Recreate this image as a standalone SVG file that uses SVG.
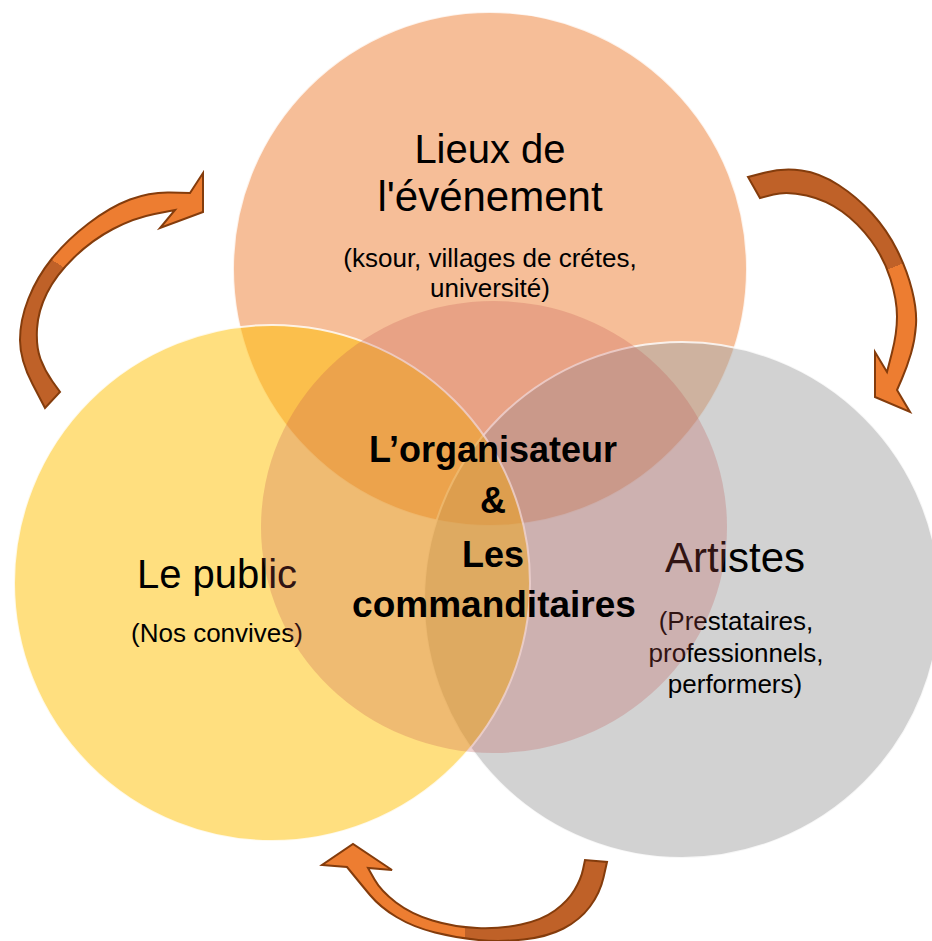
<svg xmlns="http://www.w3.org/2000/svg" width="932" height="941" viewBox="0 0 932 941">
<style>
.t{font-family:"Liberation Sans",Arial,sans-serif;fill:#000;text-anchor:middle}
.big{font-size:40px}
.sub{font-size:26px}
.ctr{font-size:36px;font-weight:bold}
.arrow{stroke:#843C0C;stroke-width:2;stroke-linejoin:miter}
.ring{stroke:#fff;stroke-width:2;stroke-opacity:0.8}
</style>
<defs>
<linearGradient id="gL" gradientUnits="userSpaceOnUse" x1="25" y1="320" x2="95" y2="210">
<stop offset="0" stop-color="#BF6128"/><stop offset="0.5" stop-color="#BF6128"/><stop offset="0.5" stop-color="#ED7D31"/><stop offset="1" stop-color="#ED7D31"/>
</linearGradient>
<linearGradient id="gR" gradientUnits="userSpaceOnUse" x1="880" y1="235" x2="905" y2="300">
<stop offset="0" stop-color="#BF6128"/><stop offset="0.5" stop-color="#BF6128"/><stop offset="0.5" stop-color="#ED7D31"/><stop offset="1" stop-color="#ED7D31"/>
</linearGradient>
<linearGradient id="gB" gradientUnits="userSpaceOnUse" x1="500" y1="0" x2="430" y2="0">
<stop offset="0" stop-color="#BF6128"/><stop offset="0.5" stop-color="#BF6128"/><stop offset="0.5" stop-color="#ED7D31"/><stop offset="1" stop-color="#ED7D31"/>
</linearGradient>
</defs>
<rect width="932" height="941" fill="#fff"/>
<g id="lieux">
<circle class="ring" cx="490" cy="269" r="257" fill="#ED7D31" fill-opacity="0.5"/>
<text class="t big" x="490" y="163">Lieux de</text>
<text class="t big" x="490" y="211" style="font-size:42px">l'événement</text>
<text class="t sub" x="490" y="267">(ksour, villages de crétes,</text>
<text class="t sub" x="490" y="297">université)</text>
</g>
<g id="artistes">
<circle class="ring" cx="682" cy="600" r="258" fill="#A5A5A5" fill-opacity="0.5"/>
<text class="t big" x="735" y="572" style="font-size:42px">Artistes</text>
<text class="t sub" x="736" y="630">(Prestataires,</text>
<text class="t sub" x="736" y="662">professionnels,</text>
<text class="t sub" x="735" y="693">performers)</text>
</g>
<g id="public">
<circle class="ring" cx="272" cy="583" r="258" fill="#FFC000" fill-opacity="0.5"/>
<text class="t big" x="217" y="588">Le public</text>
<text class="t sub" x="217" y="642">(Nos convives)</text>
</g>
<g id="organisateur">
<ellipse cx="494" cy="527" rx="233" ry="226" fill="#C0504D" fill-opacity="0.25"/>
<text class="t ctr" x="493" y="462">L’organisateur</text>
<text class="t ctr" x="493" y="513">&amp;</text>
<text class="t ctr" x="493" y="567">Les</text>
<text class="t ctr" x="494" y="617" style="font-size:37px">commanditaires</text>
</g>
<g id="connectors">
<path class="arrow" fill="url(#gL)" d="M45,408 L32.5,384 Q20,360 20,340 Q20,320 28.5,298.5 Q37,277 52,258.5 Q67,240 88.5,223.5 Q110,207 130,199.5 Q150,192 170,192.5 L190,193 L203,173 L203,212 L160,228 L175,210 L154.5,214 Q134,218 113,229 Q92,240 74,257.5 Q56,275 47,293 Q38,311 37,329 Q36,347 40.5,359 Q45,371 52.5,381.5 L60,392 Z"/>
<path class="arrow" fill="url(#gR)" d="M748,177 L765.5,172.5 Q783,168 801.5,170.5 Q820,173 838.5,185 Q857,197 872,213.5 Q887,230 897,250 Q907,270 912,290 Q917,310 916,325 Q915,340 911,353.5 Q907,367 902,378.5 L897,390 L910,412 L875,397 L875,352 L887,372 L892,352.5 Q897,333 897,316.5 Q897,300 890.5,279 Q884,258 871,240.5 Q858,223 842,211.5 Q826,200 806.5,195.5 Q787,191 773.5,194.5 L760,198 Z"/>
<path class="arrow" fill="url(#gB)" d="M607,862 L603.5,877.5 Q600,893 590,906.5 Q580,920 563.5,928.5 Q547,937 523.5,939.5 Q500,942 478.5,940 Q457,938 435,932.5 Q413,927 396.5,917 Q380,907 370,895 Q360,883 353.5,875 L347,867 L322,865 L353,844 L392,870 L368,868 L374.5,879.5 Q381,891 396,902.5 Q411,914 432.5,920.5 Q454,927 477,928 Q500,929 521,924.5 Q542,920 555,910.5 Q568,901 574.5,890 Q581,879 583,869.5 L585,860 Z"/>
</g>
</svg>
